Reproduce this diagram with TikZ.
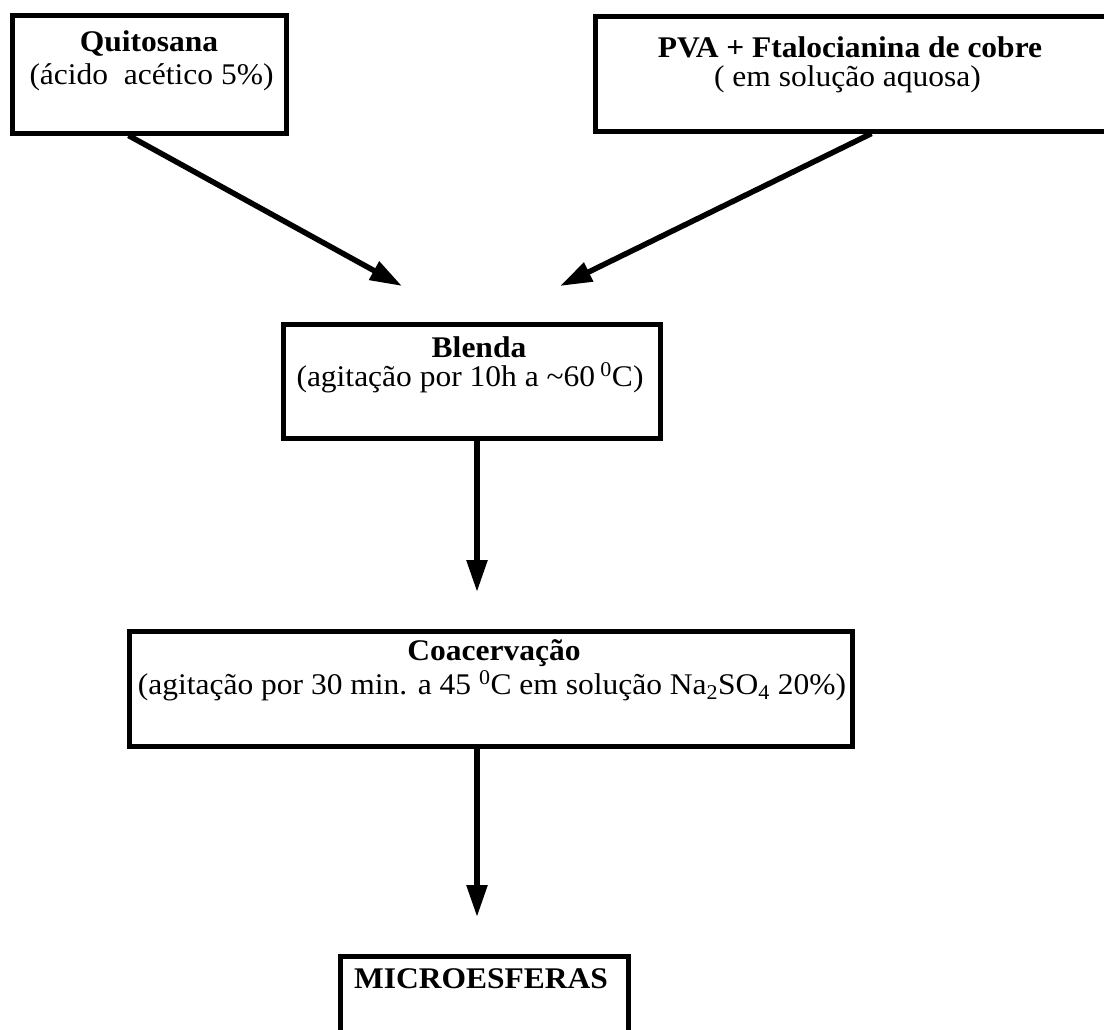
\documentclass[tikz,border=0pt]{standalone}
\usepackage{fontspec}
\setmainfont{Liberation Serif}
\usetikzlibrary{arrows.meta}

\begin{document}
\begin{tikzpicture}[x=1pt,y=-1pt,
  stage/.style={draw, line width=5pt, inner sep=0pt},
  title/.style={anchor=base, inner sep=0pt, xscale=1.05, font=\fontsize{30}{32}\selectfont\bfseries},
  note/.style={anchor=base, inner sep=0pt, xscale=1.05, font=\fontsize{30}{32}\selectfont},
  flow/.style={line width=5.5pt, -{Triangle[length=32pt,width=20pt]}}]
\clip (0,0) rectangle (1104,1029);
\fill[white] (0,0) rectangle (1104,1029);

% starting materials
\node[stage, minimum width=274pt, minimum height=118pt] (quit) at (149,74) {};
\node[title] (quittitle) at (149,51) {Quitosana};
\node[note] (quitnote) at (151.5,84) {(ácido~ acético 5\%)};

\node[stage, minimum width=515pt, minimum height=115pt] (pva) at (852.5,73.5) {};
\node[title] (pvatitle) at (850,57) {PVA + Ftalocianina de cobre};
\node[note] (pvanote) at (847.5,86) {( em solução aquosa)};

% blend
\node[stage, minimum width=377pt, minimum height=114pt] (blend) at (471.5,381) {};
\node[title] (blendtitle) at (479,357) {Blenda};
\node[note] (blendnote) at (470,386) {(agitação por 10h a \textasciitilde60\,\textsuperscript{0}C)};

% coacervation
\node[stage, minimum width=723pt, minimum height=115pt] (coac) at (490.5,688.5) {};
\node[title] (coactitle) at (494,660) {Coacervação};
\node[note] (coacnote) at (492,694) {(agitação por 30 min. a 45 \textsuperscript{0}C em solução Na\textsubscript{2}SO\textsubscript{4} 20\%)};

% product
\node[stage, minimum width=288pt, minimum height=104pt] (micro) at (484,1008) {};
\node[title] (microtitle) at (481,988) {MICROESFERAS};

% arrow ends
\coordinate (in1) at (402,286);
\coordinate (in2) at (560,286);
\coordinate (in3) at (477,592);
\coordinate (in4) at (477,917);

\draw[flow] ([xshift=119pt]quit.south west) -- (in1);
\draw[flow] ([xshift=279pt]pva.south west) -- (in2);
\draw[flow] ([xshift=5.5pt]blend.south) -- (in3);
\draw[flow] ([xshift=-13.5pt]coac.south) -- (in4);
\end{tikzpicture}
\end{document}
